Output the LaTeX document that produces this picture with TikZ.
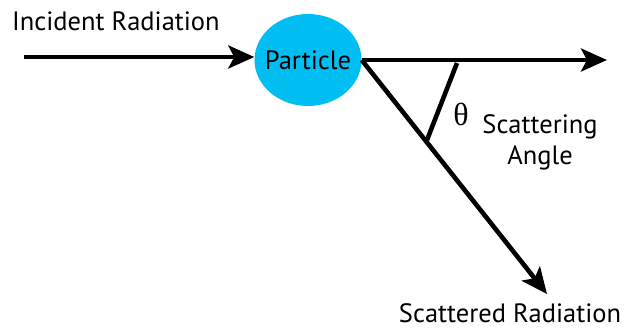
\documentclass[tikz,border=0pt]{standalone}
\usepackage{fontspec}
\setmainfont{PT Sans}
\newfontfamily\greekfont{Liberation Serif}
\usetikzlibrary{arrows.meta,shapes.geometric}
\definecolor{particlecyan}{RGB}{0,190,242}
\begin{document}
\begin{tikzpicture}[x=1pt,y=-1pt,
  ray/.style={line width=4.6pt,-{Stealth[length=26pt,width=23pt,inset=6pt]}},
  lbl/.style={font=\fontsize{26.5}{31}\selectfont,inner sep=0pt}]
\useasboundingbox (0,0) rectangle (631,329);
\node[ellipse,fill=particlecyan,minimum width=107pt,minimum height=92pt,
  inner sep=0pt,label={[lbl]center:Particle}] (particle) at (308,60) {};
\coordinate (in) at (24,57);
\coordinate (fwd) at (607,60);
\coordinate (out) at (547,294);
\draw[ray] (in) -- (in -| particle.west);
\draw[ray] (particle.east) -- (fwd);
\draw[ray] (particle.east) -- (out);
% angle marker
\coordinate (mtop) at (457,63);
\coordinate (mbot) at (427,140);
\draw[line width=4.6pt] (mtop) -- (mbot);
\node[lbl,anchor=base west] (inlabel) at (12,31) {Incident Radiation};
\node[font=\greekfont\fontsize{32}{34}\selectfont,inner sep=0pt] (theta) at (461,114) {θ};
\node[lbl,align=center] (angle) at (540,142) {Scattering\\Angle};
\node[lbl,anchor=base] (outlabel) at (510,322) {Scattered Radiation};
\end{tikzpicture}
\end{document}
